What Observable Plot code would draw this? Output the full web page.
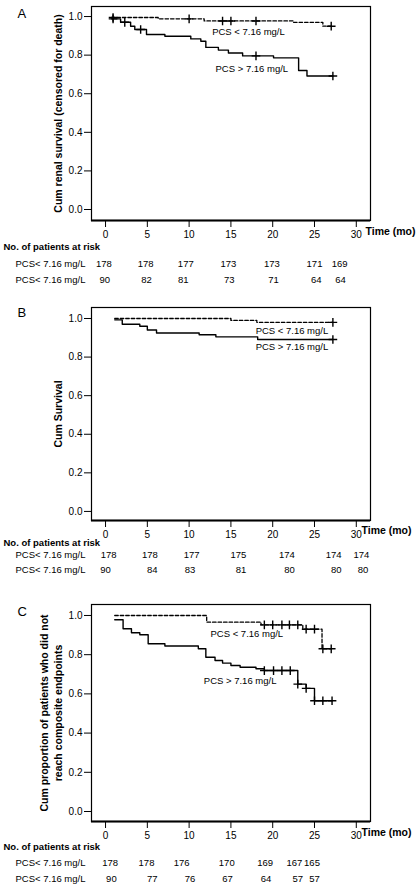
<!DOCTYPE html>
<html><head><meta charset="utf-8">
<script src="https://cdn.jsdelivr.net/npm/d3@7"></script>
<script src="https://cdn.jsdelivr.net/npm/@observablehq/plot@0.6"></script>
<style>body{margin:0;background:#fff;} #chart svg{display:block;}</style>
</head><body><div id="chart"></div>
<script>
// ---------- Data ----------
const groupLabels = ["PCS < 7.16 mg/L", "PCS > 7.16 mg/L"];
const riskRowLabels = ["PCS< 7.16 mg/L", "PCS< 7.16 mg/L"];
const riskHeader = "No. of patients at risk";
const xAxisTitle = "Time (mo)";

// Panel A: renal survival (censored for death)
const aLowT = [0.7, 6.3, 11.8, 22.5, 26.0, 27.0];
const aLowS = [0.995, 0.988, 0.977, 0.970, 0.950, 0.950];
const aLowCens = [0.9, 10, 14, 15, 18, 27];
const aHighT = [0.7, 1.8, 3.0, 3.5, 4.9, 7.1, 10.2, 11.4, 12.0, 13.5, 14.7, 16.4, 20.1, 23.1, 24.1, 27.2];
const aHighS = [0.988, 0.970, 0.950, 0.933, 0.907, 0.898, 0.884, 0.872, 0.840, 0.826, 0.811, 0.796, 0.786, 0.720, 0.692, 0.692];
const aHighCens = [0.9, 2.3, 4.2, 18, 27.2];
const aRiskLow = [178, 178, 177, 173, 173, 171, 169];
const aRiskHigh = [90, 82, 81, 73, 71, 64, 64];
const aRiskTLow = [-0.2, 4.8, 9.6, 14.7, 19.9, 25.0, 28.0];
const aRiskTHigh = [-0.1, 4.9, 9.3, 14.8, 20.1, 25.2, 28.1];

// Panel B: survival
const bLowT = [1.1, 15.0, 18.1, 27.2];
const bLowS = [1.0, 0.990, 0.980, 0.980];
const bLowCens = [27.2];
const bHighT = [1.1, 2.0, 4.1, 5.0, 6.1, 11.2, 13.2, 18.2, 27.2];
const bHighS = [0.993, 0.970, 0.960, 0.940, 0.925, 0.916, 0.905, 0.891, 0.891];
const bHighCens = [27.2];
const bRiskLow = [178, 178, 177, 175, 174, 174, 174];
const bRiskHigh = [90, 84, 83, 81, 80, 80, 80];
const bRiskTLow = [0.36, 5.3, 10.3, 15.9, 21.7, 27.3, 30.6];
const bRiskTHigh = [0.0, 5.6, 10.1, 16.2, 22.0, 27.6, 30.8];

// Panel C: composite endpoints
const cLowT = [1.1, 12.1, 18.6, 23.6, 25.9, 27.0];
const cLowS = [1.0, 0.966, 0.952, 0.930, 0.830, 0.830];
const cLowCens = [19.0, 20.0, 21.1, 22.0, 23.0, 24.0, 25.0, 26.0, 27.0];
const cHighT = [1.1, 2.1, 3.1, 4.1, 5.1, 7.1, 11.1, 12.0, 13.1, 14.0, 15.0, 16.1, 18.0, 19.0, 23.0, 24.0, 25.0, 27.1];
const cHighS = [0.978, 0.932, 0.912, 0.902, 0.856, 0.844, 0.830, 0.787, 0.770, 0.757, 0.745, 0.736, 0.728, 0.719, 0.650, 0.628, 0.565, 0.565];
const cHighCens = [19.0, 20.1, 21.1, 22.1, 23.0, 24.0, 25.0, 26.0, 27.1];
const cRiskLow = [178, 178, 176, 170, 169, 167, 165];
const cRiskHigh = [90, 77, 76, 67, 64, 57, 57];
const cRiskTLow = [0.55, 4.9, 9.1, 14.5, 19.1, 22.6, 24.7];
const cRiskTHigh = [0.7, 5.6, 10.1, 14.6, 19.2, 23.0, 25.0];

// ---------- Rendering ----------
const FONT = "'Liberation Sans', Arial, Helvetica, sans-serif";
const xDomain = [-1.68, 31.7];

function stepAt(ts, ss, t) {
  let v = ss[0];
  for (let i = 0; i < ts.length; i++) if (ts[i] <= t + 1e-9) v = ss[i];
  return v;
}

function panel(cfg) {
  const low = cfg.lowT.map((t, i) => ({t, s: cfg.lowS[i]}));
  const high = cfg.highT.map((t, i) => ({t, s: cfg.highS[i]}));
  const cens = [
    ...cfg.lowCens.map(t => ({t, s: stepAt(cfg.lowT, cfg.lowS, t)})),
    ...cfg.highCens.map(t => ({t, s: stepAt(cfg.highT, cfg.highS, t)}))
  ];
  const rLow = cfg.riskLow.map((n, i) => ({t: cfg.riskTLow[i], n}));
  const rHigh = cfg.riskHigh.map((n, i) => ({t: cfg.riskTHigh[i], n}));
  const one = [0];
  return Plot.plot({
    width: 417, height: cfg.height,
    marginLeft: 91, marginRight: 47, marginTop: cfg.mt, marginBottom: cfg.mb,
    style: {fontFamily: FONT, fontSize: "10px", background: "white", color: "black", overflow: "visible"},
    x: {domain: xDomain, ticks: 6, tickSize: 7, tickPadding: 3, label: null},
    y: {domain: cfg.yDomain, ticks: 6, tickFormat: d3.format(".1f"), tickSize: 7, tickPadding: 2, label: null},
    marks: [
      Plot.frame({stroke: "black", strokeWidth: 1.2}),
      Plot.ruleY([cfg.yDomain[0]], {stroke: "black", strokeWidth: 2}),
      Plot.line(low, {x: "t", y: "s", curve: "step-after", stroke: "black", strokeWidth: 1.3, strokeDasharray: "3.5,2"}),
      Plot.line(high, {x: "t", y: "s", curve: "step-after", stroke: "black", strokeWidth: 1.4}),
      Plot.dot(cens, {x: "t", y: "s", symbol: "plus", r: 2.9, stroke: "black", strokeWidth: 1.4}),
      Plot.text([0, 1], {x: i => cfg.labelPos[i][0], y: i => cfg.labelPos[i][1], text: i => groupLabels[i], fontSize: 9.5}),
      // panel letter
      Plot.text(one, {frameAnchor: "top-left", text: () => cfg.letter, dx: -74, dy: cfg.letterDy, textAnchor: "start", lineAnchor: "bottom", fontSize: 13}),
      // y axis title
      Plot.text(one, {frameAnchor: "left", text: () => cfg.ylabel, rotate: -90, dx: cfg.ylabelDx, textAnchor: "middle", lineAnchor: "middle", fontWeight: "bold", fontSize: 10.5, lineHeight: 1.3}),
      // x axis title
      Plot.text(one, {frameAnchor: "bottom-right", text: () => xAxisTitle, dx: cfg.timeDx, dy: cfg.tickDy, textAnchor: "start", fontWeight: "bold", fontSize: 10.5}),
      // risk table
      Plot.text(one, {frameAnchor: "bottom-left", text: () => riskHeader, dx: -88, dy: cfg.headDy, textAnchor: "start", fontWeight: "bold", fontSize: 9.5}),
      Plot.text(one, {frameAnchor: "bottom-left", text: () => riskRowLabels[0], dx: -76, dy: cfg.row1Dy, textAnchor: "start", fontSize: 9.5}),
      Plot.text(one, {frameAnchor: "bottom-left", text: () => riskRowLabels[1], dx: -76, dy: cfg.row2Dy, textAnchor: "start", fontSize: 9.5}),
      Plot.text(rLow, {x: "t", frameAnchor: "bottom", text: "n", dy: cfg.row1Dy, fontSize: 9.5}),
      Plot.text(rHigh, {x: "t", frameAnchor: "bottom", text: "n", dy: cfg.row2Dy, fontSize: 9.5})
    ]
  });
}

const chart = document.getElementById("chart");
chart.append(panel({
  letter: "A", height: 300, mt: 6, mb: 80, yDomain: [-0.057, 1.052], letterDy: 11,
  ylabel: "Cum renal survival (censored for death)", ylabelDx: -34,
  lowT: aLowT, lowS: aLowS, lowCens: aLowCens, highT: aHighT, highS: aHighS, highCens: aHighCens,
  riskLow: aRiskLow, riskHigh: aRiskHigh, riskTLow: aRiskTLow, riskTHigh: aRiskTHigh,
  labelPos: [[17.1, 0.922], [17.5, 0.73]],
  tickDy: 14, timeDx: -5, headDy: 29, row1Dy: 46, row2Dy: 62
}));
chart.append(panel({
  letter: "B", height: 300, mt: 7, mb: 80, yDomain: [-0.047, 1.057], letterDy: 9,
  ylabel: "Cum Survival", ylabelDx: -34,
  lowT: bLowT, lowS: bLowS, lowCens: bLowCens, highT: bHighT, highS: bHighS, highCens: bHighCens,
  riskLow: bRiskLow, riskHigh: bRiskHigh, riskTLow: bRiskTLow, riskTHigh: bRiskTHigh,
  labelPos: [[22.3, 0.938], [22.3, 0.851]],
  tickDy: 13, timeDx: -9, headDy: 25, row1Dy: 37, row2Dy: 52
}));
chart.append(panel({
  letter: "C", height: 290, mt: 4, mb: 69, yDomain: [-0.051, 1.056], letterDy: 11,
  ylabel: "Cum proportion of patients who did not\nreach composite endpoints", ylabelDx: -41,
  lowT: cLowT, lowS: cLowS, lowCens: cLowCens, highT: cHighT, highS: cHighS, highCens: cHighCens,
  riskLow: cRiskLow, riskHigh: cRiskHigh, riskTLow: cRiskTLow, riskTHigh: cRiskTHigh,
  labelPos: [[16.9, 0.908], [16.1, 0.668]],
  tickDy: 14, timeDx: -9, headDy: 28, row1Dy: 44, row2Dy: 60
}));
</script>
</body></html>
